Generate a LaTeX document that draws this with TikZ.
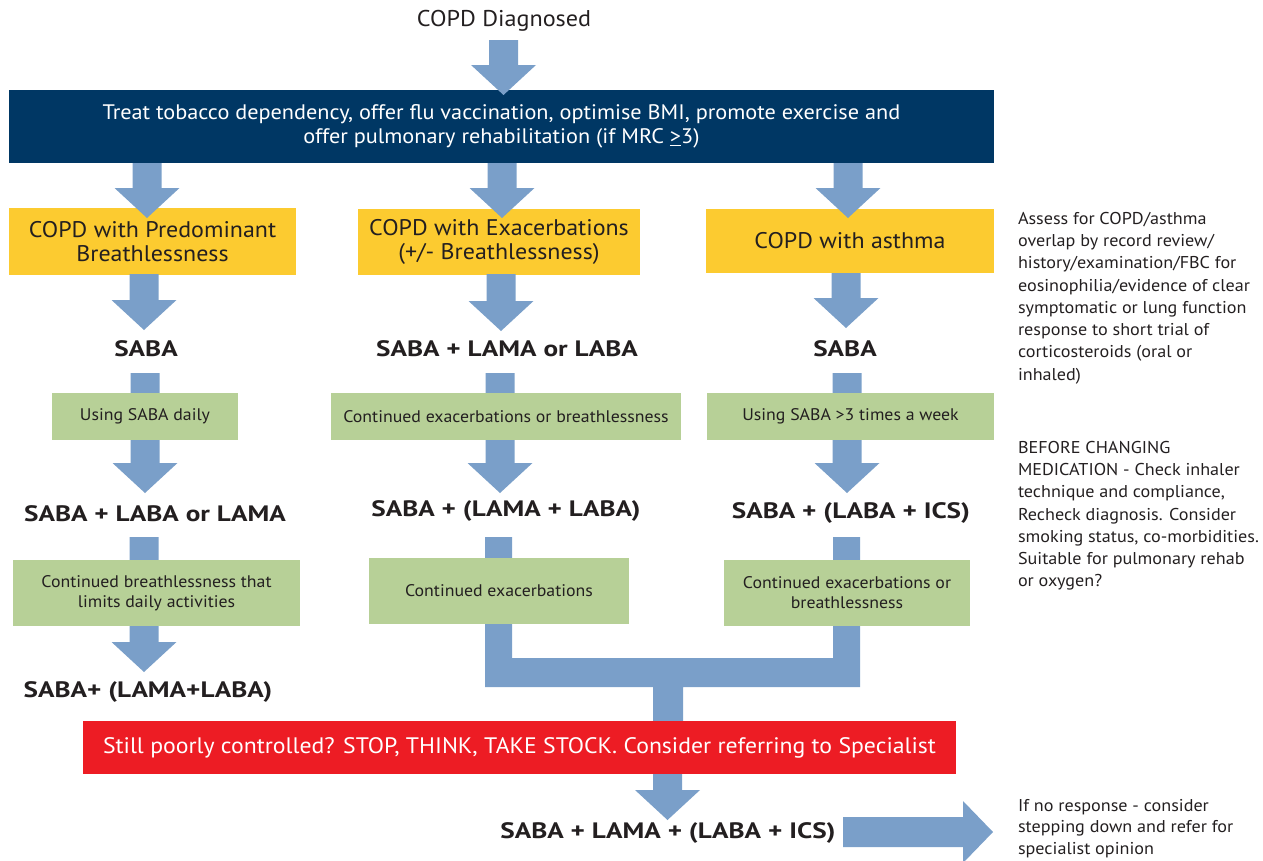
\documentclass[tikz,border=0pt]{standalone}
\usepackage{fontspec}
\setmainfont[FakeStretch=1.06]{PT Sans}
\newfontfamily\drugfont[FakeStretch=1.22]{PT Sans}
\definecolor{navy}{HTML}{003764}
\definecolor{amber}{HTML}{FCCB30}
\definecolor{sage}{HTML}{B7D097}
\definecolor{alarm}{HTML}{ED1C24}
\definecolor{flow}{HTML}{7A9FC9}
\definecolor{ink}{HTML}{231F20}

% vertical block arrow: centre x, top y, tip y
\newcommand{\downblock}[3]{%
  \fill[flow] ({#1-14.5},{#2}) -- ({#1+14.5},{#2}) -- ({#1+14.5},{#3-30})
    -- ({#1+32.5},{#3-30}) -- ({#1},{#3}) -- ({#1-32.5},{#3-30})
    -- ({#1-14.5},{#3-30}) -- cycle;}

\tikzset{
  every node/.style={inner sep=0pt, outer sep=0pt, text=ink},
  navybox/.style={fill=navy, text=white, align=center,
    font=\fontsize{21}{24}\selectfont},
  stagebox/.style={fill=amber, align=center, font=\fontsize{22.6}{24}\selectfont},
  checkbox/.style={fill=sage, align=center, font=\fontsize{16.8}{20}\selectfont},
  alertbox/.style={fill=alarm, text=white, font=\fontsize{22.4}{26}\selectfont},
  drug/.style={font=\drugfont\bfseries\fontsize{22.3}{26}\selectfont},
  plain/.style={font=\fontsize{22.8}{26}\selectfont},
  note/.style={anchor=north west, align=left, font=\fontsize{17.1}{22.3}\selectfont},
}

\begin{document}
\begin{tikzpicture}[x=1pt, y=-1pt]
\useasboundingbox (0,0) rectangle (1263,860);

% title and general measures
\node[plain] (start) at (504,21) {COPD Diagnosed};
\node[navybox, minimum width=985, minimum height=73] (general) at (501.5,126.5)
  {Treat tobacco dependency, offer flu vaccination, optimise BMI, promote exercise and\\
   offer pulmonary rehabilitation (if MRC \underline{>}3)};

% phenotype boxes
\node[stagebox, minimum width=287, minimum height=67] (breath) at (152.5,241.5)
  {COPD with Predominant\\Breathlessness};
\node[stagebox, minimum width=282, minimum height=66] (exac) at (499,242)
  {COPD with Exacerbations\\(+/- Breathlessness)};
\node[stagebox, minimum width=288, minimum height=64] (asthma) at (850,241)
  {COPD with asthma};

% arrows between the top levels
\downblock{503.5}{40}{95}
\downblock{147}{163}{218}
\downblock{502}{163}{218}
\downblock{848}{163}{218}
\downblock{144}{274}{330}
\downblock{501}{274}{331}
\downblock{846}{273}{328}

% first-line treatment
\node[drug] (b1) at (146,349) {SABA};
\node[drug] (e1) at (507,349) {SABA + LAMA or LABA};
\node[drug] (a1) at (845,349) {SABA};

% arrows running behind the first checks
\downblock{145}{373}{493}
\downblock{500}{373}{493}
\downblock{847}{373}{493}

% arrow running behind the second check of the breathlessness route
\downblock{144}{537}{672}

% merging connector of the exacerbation and asthma routes
\fill[flow] (485,537) -- (485,687) -- (653,687) -- (653,721) -- (683,721)
  -- (683,687) -- (860,687) -- (860,537) -- (833,537) -- (833,658)
  -- (512,658) -- (512,537) -- cycle;

% first checks
\node[checkbox, minimum width=186, minimum height=47] (bc1) at (145,416.5)
  {Using SABA daily};
\node[checkbox, minimum width=350, minimum height=47] (ec1) at (506,416.5)
  {Continued exacerbations or breathlessness};
\node[checkbox, minimum width=287, minimum height=47] (ac1) at (850.5,416.5)
  {Using SABA >3 times a week};

% second-line treatment
\node[drug] (b2) at (155,514) {SABA + LABA or LAMA};
\node[drug] (e2) at (506,511) {SABA + (LAMA + LABA)};
\node[drug] (a2) at (851,513) {SABA + (LABA + ICS)};

% second checks
\node[checkbox, minimum width=287, minimum height=66] (bc2) at (156.5,593)
  {Continued breathlessness that\\limits daily activities};
\node[checkbox, minimum width=260, minimum height=66] (ec2) at (499,591)
  {Continued exacerbations};
\node[checkbox, minimum width=246, minimum height=66] (ac2) at (847,593)
  {Continued exacerbations or\\breathlessness};

% third-line treatment
\node[drug] (b3) at (148,692) {SABA+ (LAMA+LABA)};

% review and final step
\node[alertbox, minimum width=873, minimum height=53] (review) at (519.5,747.5)
  {Still poorly controlled? STOP, THINK, TAKE STOCK. Consider referring to Specialist};
\downblock{667.5}{774}{820}
\node[drug] (final) at (668,833) {SABA + LAMA + (LABA + ICS)};
\fill[flow] (843,817) -- (963,817) -- (963,801) -- (993,832) -- (963,863)
  -- (963,847) -- (843,847) -- cycle;

% side notes
\node[note] (overlap) at (1018,212)
  {Assess for COPD/asthma\\overlap by record review/\\history/examination/FBC for\\
   eosinophilia/evidence of clear\\symptomatic or lung function\\
   response to short trial of\\corticosteroids (oral or\\inhaled)};
\node[note] (before) at (1018,441)
  {BEFORE CHANGING\\MEDICATION - Check inhaler\\technique and compliance,\\
   Recheck diagnosis. Consider\\smoking status, co-morbidities.\\
   Suitable for pulmonary rehab\\or oxygen?};
\node[note, font=\fontsize{17.1}{21.8}\selectfont] (stepdown) at (1018,799)
  {If no response - consider\\stepping down and refer for\\specialist opinion};
\end{tikzpicture}
\end{document}
